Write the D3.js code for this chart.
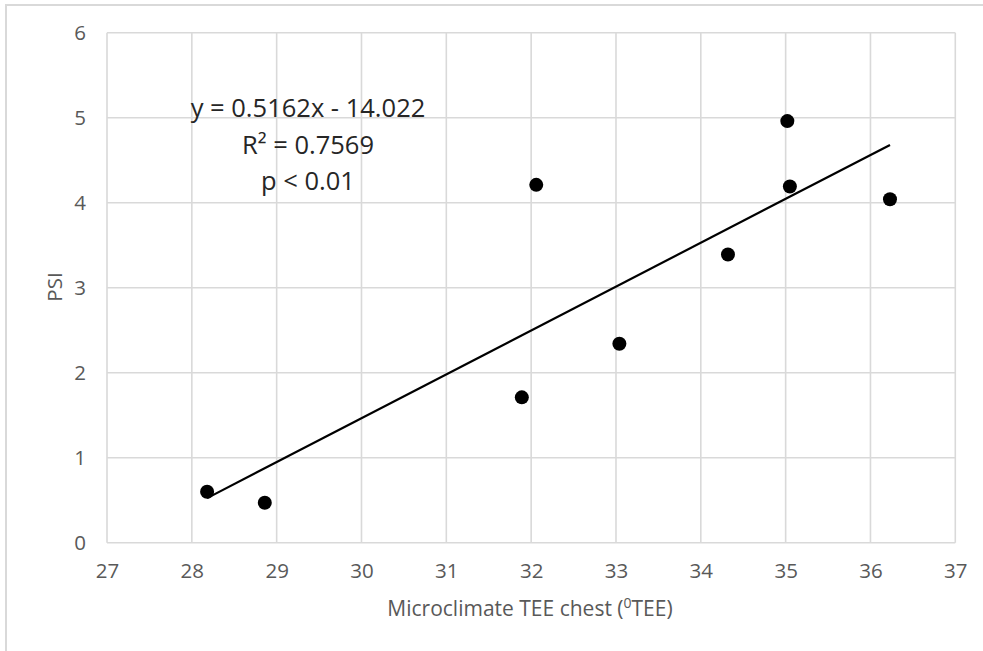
<!DOCTYPE html>
<html>
<head>
<meta charset="utf-8">
<script src="https://d3js.org/d3.v7.min.js"></script>
<style>
  body { margin: 0; background: #fff; }
  svg { display: block; }
</style>
</head>
<body>
<script>
	// values
	var teeChest = [28.18, 28.86, 31.89, 32.06, 33.04, 34.32, 35.02, 35.05, 36.23];
	var psiVals  = [0.60, 0.47, 1.71, 4.21, 2.34, 3.39, 4.96, 4.19, 4.04];
	var xTicks = [27, 28, 29, 30, 31, 32, 33, 34, 35, 36, 37];
	var yTicks = [0, 1, 2, 3, 4, 5, 6];
	var trendSlope = 0.5162, trendIntercept = -14.022;
	var eqLines = ["y = 0.5162x - 14.022", "R² = 0.7569", "p < 0.01"];

	var W = 983, H = 651;
	var FONT = "'Open Sans', 'Noto Sans', sans-serif";
	var svg = d3.select("body").append("svg").attr("width", W).attr("height", H);

	// outer chart border (only left and top show in the crop)
	svg.append("rect")
		.attr("x", 6).attr("y", 5).attr("width", W + 20).attr("height", H + 20)
		.attr("fill", "none").attr("stroke", "#d9d9d9").attr("stroke-width", 2);

	var x = d3.scaleLinear().domain([27, 37]).range([107, 955.3]);
	var y = d3.scaleLinear().domain([0, 6]).range([542.7, 32.7]);

	// gridlines
	var grid = svg.append("g").attr("stroke", "#d9d9d9").attr("stroke-width", 1.6);
	grid.selectAll(".vg").data(xTicks).enter().append("line")
		.attr("x1", function(d){ return x(d); }).attr("x2", function(d){ return x(d); })
		.attr("y1", y(0)).attr("y2", y(6));
	grid.selectAll(".hg").data(yTicks).enter().append("line")
		.attr("x1", x(27)).attr("x2", x(37))
		.attr("y1", function(d){ return y(d); }).attr("y2", function(d){ return y(d); });

	// tick labels via axes, lines hidden
	var xAxis = svg.append("g").attr("transform", "translate(0," + y(0) + ")")
		.call(d3.axisBottom(x).tickValues(xTicks).tickFormat(d3.format("d")).tickSize(0).tickPadding(21));
	var yAxis = svg.append("g").attr("transform", "translate(" + x(27) + ",0)")
		.call(d3.axisLeft(y).tickValues(yTicks).tickFormat(d3.format("d")).tickSize(0).tickPadding(21));
	[xAxis, yAxis].forEach(function(a){
		a.select(".domain").remove();
		a.selectAll("text").attr("font-family", FONT).attr("font-size", 20.5).attr("fill", "#595959");
	});

	// axis titles
	svg.append("text")
		.attr("transform", "translate(62,287) rotate(-90)")
		.attr("text-anchor", "middle")
		.attr("font-family", FONT).attr("font-size", 20.5).attr("fill", "#595959")
		.text("PSI");

	var xt = svg.append("text")
		.attr("x", 530).attr("y", 616)
		.attr("text-anchor", "middle")
		.attr("font-family", FONT).attr("font-size", 21).attr("fill", "#595959");
	xt.append("tspan").text("Microclimate TEE chest (");
	xt.append("tspan").attr("dy", -8).attr("font-size", 14).text("0");
	xt.append("tspan").attr("dy", 8).text("TEE)");

	// trend line over the data range
	var xr = d3.extent(teeChest);
	var line = d3.line().x(function(d){ return x(d); })
		.y(function(d){ return y(trendSlope * d + trendIntercept); });
	svg.append("path")
		.datum(xr)
		.attr("d", line)
		.attr("fill", "none").attr("stroke", "#000").attr("stroke-width", 2.2);

	// points
	svg.selectAll(".pt").data(teeChest).enter().append("circle")
		.attr("class", "pt")
		.attr("cx", function(d){ return x(d); })
		.attr("cy", function(d, i){ return y(psiVals[i]); })
		.attr("r", 7)
		.attr("fill", "#000");

	// equation label
	svg.selectAll(".eq").data(eqLines).enter().append("text")
		.attr("class", "eq")
		.attr("x", 308)
		.attr("y", function(d, i){ return 117 + i * 36.5; })
		.attr("text-anchor", "middle")
		.attr("font-family", FONT).attr("font-size", 25.5).attr("fill", "#262626")
		.text(function(d){ return d; });
</script>
</body>
</html>
